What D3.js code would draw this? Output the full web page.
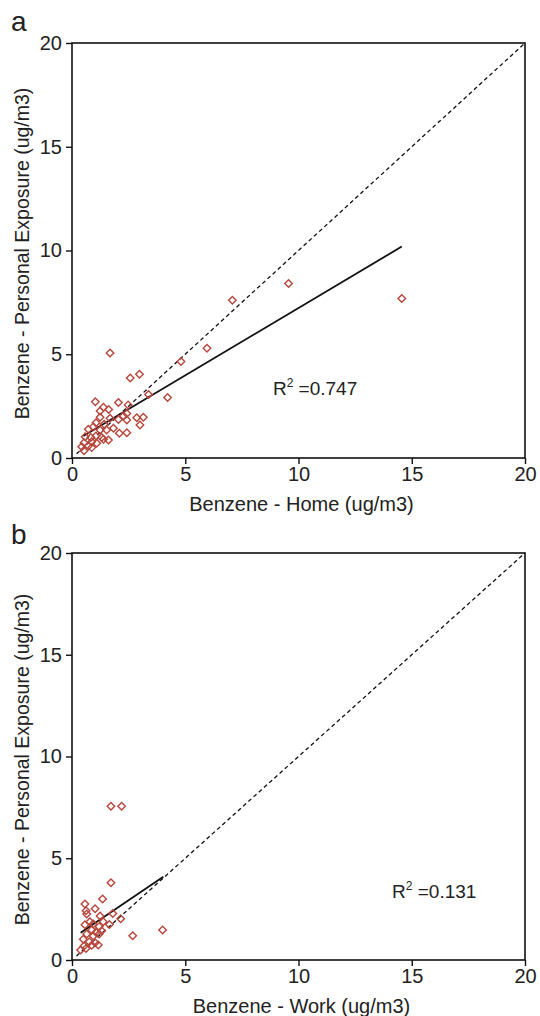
<!DOCTYPE html>
<html>
<head>
<meta charset="utf-8">
<script src="https://cdn.jsdelivr.net/npm/d3@7"></script>
<style>
  body { margin: 0; background: #fff; }
  text { font-family: "Liberation Sans", Arial, sans-serif; fill: #222; }
</style>
</head>
<body>
<div id="chart"></div>
<script>
// panel a: home vs personal exposure
let homeX = [1.68, 5.96, 4.81, 2.57, 2.98, 4.22, 3.38, 1.03, 2.05, 2.48, 1.39, 1.62, 1.24, 2.42, 2.27, 2.86, 3.15, 3.0,
  2.42, 2.05, 1.68, 1.24, 1.06, 1.42, 1.83, 0.72, 0.94, 1.24, 1.53, 2.09, 2.42, 0.58, 0.83, 1.06, 1.31, 1.61, 1.39,
  0.53, 0.87, 1.09, 0.43, 0.72, 0.87, 0.53, 7.08, 9.56, 14.56]
let homeY = [5.06, 5.29, 4.65, 3.86, 4.04, 2.92, 3.06, 2.71, 2.68, 2.56, 2.44, 2.34, 2.26, 2.15, 2.02, 1.94, 1.96, 1.59,
  1.83, 1.86, 1.91, 1.96, 1.70, 1.63, 1.43, 1.39, 1.5, 1.35, 1.35, 1.19, 1.22, 1.02, 0.99, 1.06, 0.99, 0.87, 0.90,
  0.74, 0.78, 0.71, 0.54, 0.58, 0.50, 0.35, 7.6, 8.41, 7.69]

// panel b: work vs personal exposure
let workX = [1.72, 2.19, 1.72, 1.35, 0.57, 0.62, 0.65, 1.02, 1.24, 1.80, 2.15, 0.79, 0.57, 0.94, 1.38, 1.65, 1.20, 0.87,
  1.06, 1.31, 0.65, 0.94, 1.20, 0.50, 0.76, 1.02, 1.16, 0.53, 0.87, 0.38, 0.62, 2.68, 4.0]
let workY = [7.55, 7.55, 3.80, 3.0, 2.75, 2.42, 2.26, 2.52, 2.16, 2.29, 2.03, 1.88, 1.73, 1.77, 1.88, 1.75, 1.64, 1.47,
  1.36, 1.44, 1.28, 1.18, 1.28, 1.02, 0.90, 0.85, 0.74, 0.69, 0.72, 0.49, 0.57, 1.19, 1.47]

let ticks = [0, 5, 10, 15, 20]

// fitted lines [x1, y1, x2, y2]
let fitA = [0.5, 1.06, 14.56, 10.19]
let fitB = [0.38, 1.34, 4.03, 4.09]
let idLine = [0.2, 0.2, 20, 20]

let width = 540
let height = 1016

let svg = d3.select("#chart").append("svg")
  .attr("width", width)
  .attr("height", height)

function panel(opts) {
  let x = d3.scaleLinear().domain([0, 20]).range([opts.left, opts.right])
  let y = d3.scaleLinear().domain([0, 20]).range([opts.bottom, opts.top])
  let g = svg.append("g")

  // frame
  g.append("rect")
    .attr("x", opts.left).attr("y", opts.top)
    .attr("width", opts.right - opts.left).attr("height", opts.bottom - opts.top)
    .attr("fill", "none").attr("stroke", "#111").attr("stroke-width", 1.6)

  let xAxis = g.append("g")
    .attr("transform", `translate(0,${opts.bottom})`)
    .call(d3.axisBottom(x).tickValues(ticks).tickSize(6).tickPadding(3))
  let yAxis = g.append("g")
    .attr("transform", `translate(${opts.left},0)`)
    .call(d3.axisLeft(y).tickValues(ticks).tickSize(6).tickPadding(4))
  ;[xAxis, yAxis].forEach(function(a) {
    a.select(".domain").remove()
    a.selectAll("line").attr("stroke", "#111").attr("stroke-width", 1.4)
    a.selectAll("text").style("font-size", "20px").attr("fill", "#222")
      .style("font-family", "'Liberation Sans', Arial, sans-serif")
  })

  // y = x reference
  g.append("line")
    .attr("x1", x(idLine[0])).attr("y1", y(idLine[1]))
    .attr("x2", x(idLine[2])).attr("y2", y(idLine[3]))
    .attr("stroke", "#111").attr("stroke-width", 1.3).attr("stroke-dasharray", "4,3")

  // regression line
  g.append("line")
    .attr("x1", x(opts.fit[0])).attr("y1", y(opts.fit[1]))
    .attr("x2", x(opts.fit[2])).attr("y2", y(opts.fit[3]))
    .attr("stroke", "#111").attr("stroke-width", 1.8)

  let sym = d3.symbol().type(d3.symbolDiamond2).size(36)
  g.selectAll(".pt")
    .data(opts.xs.map(function(d, i) { return [d, opts.ys[i]] }))
    .join("path")
    .attr("class", "pt")
    .attr("d", sym)
    .attr("transform", function(d) { return `translate(${x(d[0])},${y(d[1])})` })
    .attr("fill", "none")
    .attr("stroke", "#b8463c")
    .attr("stroke-width", 1.4)

  // R2 label
  let r = g.append("text")
    .attr("x", x(opts.rPos[0])).attr("y", y(opts.rPos[1]))
    .style("font-size", "19px")
  r.append("tspan").text("R")
  r.append("tspan").attr("dy", -8).style("font-size", "12px").text("2")
  r.append("tspan").attr("dy", 8).text(" =" + opts.r2)

  // axis titles
  g.append("text")
    .attr("x", (opts.left + opts.right) / 2 + 3).attr("y", opts.bottom + 53)
    .attr("text-anchor", "middle")
    .style("font-size", "20px")
    .text(opts.xTitle)
  g.append("text")
    .attr("transform", `translate(29,${(opts.top + opts.bottom) / 2 + 3}) rotate(-90)`)
    .attr("text-anchor", "middle")
    .style("font-size", "19.5px")
    .text("Benzene - Personal Exposure (ug/m3)")

  // panel letter
  svg.append("text")
    .attr("x", 11).attr("y", opts.letterY)
    .style("font-size", "28px")
    .text(opts.letter)
}

panel({
  left: 72, right: 525, top: 43, bottom: 458,
  xs: homeX, ys: homeY, fit: fitA,
  r2: "0.747", rPos: [8.87, 3.04], letterY: 31,
  xTitle: "Benzene - Home (ug/m3)", letter: "a"
})

panel({
  left: 72, right: 525, top: 553, bottom: 960,
  xs: workX, ys: workY, fit: fitB,
  r2: "0.131", rPos: [14.13, 3.05], letterY: 544,
  xTitle: "Benzene - Work (ug/m3)", letter: "b"
})
</script>
</body>
</html>
